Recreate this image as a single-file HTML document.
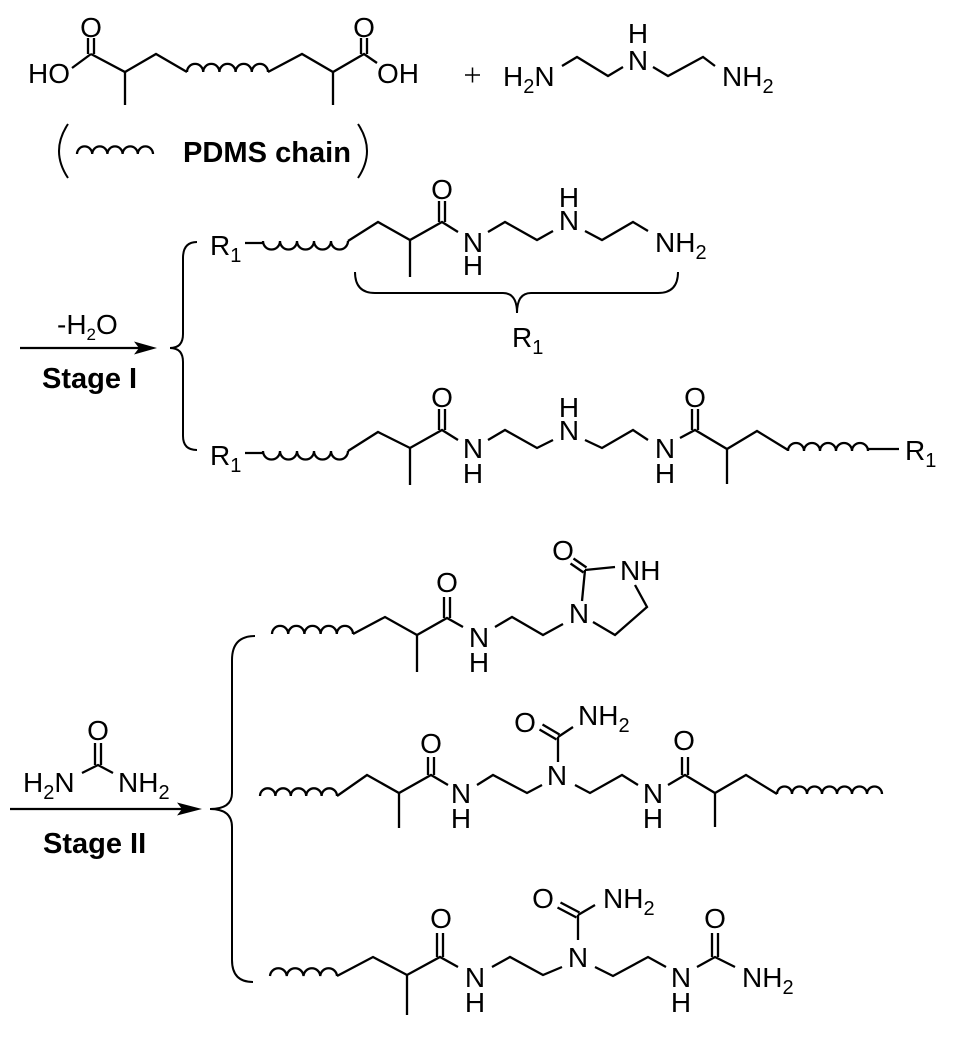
<!DOCTYPE html>
<html><head><meta charset="utf-8"><style>
html,body{margin:0;padding:0;background:#fff;}
svg{display:block;}
text{font-family:"Liberation Sans",Arial,sans-serif;font-size:28px;fill:#000;}
.b{font-weight:bold;font-size:29px;}
.m{text-anchor:middle;}
</style></head><body>
<svg width="967" height="1040" viewBox="0 0 967 1040" xmlns="http://www.w3.org/2000/svg">
<g stroke="#000" stroke-width="2.3" fill="none" stroke-linejoin="miter" stroke-linecap="butt">
<!-- Top acid -->
<line x1="72" y1="68" x2="91" y2="54"/>
<polyline points="91,54 125,72 156,54 187,72"/>
<line x1="125" y1="72" x2="125" y2="105"/>
<path d="M187,72 a8.1,8.1 0 0 1 16.2,0 a8.1,8.1 0 0 1 16.2,0 a8.1,8.1 0 0 1 16.2,0 a8.1,8.1 0 0 1 16.2,0 a8.1,8.1 0 0 1 16.2,0"/>
<polyline points="268,72 302,54 333,72 364,54 377,63"/>
<line x1="333" y1="72" x2="333" y2="105"/>
<line x1="88" y1="38" x2="88" y2="54"/><line x1="94" y1="38" x2="94" y2="54"/>
<line x1="361" y1="38" x2="361" y2="54"/><line x1="367" y1="38" x2="367" y2="54"/>
<!-- plus -->
<line x1="465" y1="75" x2="480" y2="75" stroke-width="1.5"/>
<line x1="472.5" y1="67.5" x2="472.5" y2="82.5" stroke-width="1.5"/>
<!-- amine -->
<polyline points="562,66 577,57 608,76 623,67"/>
<polyline points="653,67 668,76 703,57 715,66"/>
<!-- legend -->
<path d="M68,124 Q50,151 68,178" stroke-width="2"/>
<path d="M358,124 Q376,151 358,178" stroke-width="2"/>
<path d="M77,154 a7.6,7.6 0 0 1 15.2,0 a7.6,7.6 0 0 1 15.2,0 a7.6,7.6 0 0 1 15.2,0 a7.6,7.6 0 0 1 15.2,0 a7.6,7.6 0 0 1 15.2,0"/>

<!-- Stage I arrow -->
<line x1="20" y1="348" x2="142" y2="348"/>
<!-- Stage I brace -->
<path d="M197,242 Q183,242 183,258 L183,334 Q183,348 170,348 Q183,348 183,362 L183,436 Q183,450 197,450" stroke-width="2"/>

<!-- Stage I top molecule -->
<line x1="245" y1="243" x2="263" y2="243"/>
<path d="M263,241 a8.5,8.5 0 0 0 17,0 a8.5,8.5 0 0 0 17,0 a8.5,8.5 0 0 0 17,0 a8.5,8.5 0 0 0 17,0 a8.5,8.5 0 0 0 17,0"/>
<polyline points="348,241 378,222 410,240 442,222 458,232"/>
<line x1="410" y1="240" x2="410" y2="277"/>
<line x1="439" y1="201" x2="439" y2="222"/><line x1="445" y1="201" x2="445" y2="222"/>
<polyline points="488,232 505,222 537,240 553,231"/>
<polyline points="585,231 602,240 633,222 648,231"/>
<path d="M355,272 Q355,293 375,293 L503,293 Q517,293 517,313 Q517,293 531,293 L658,293 Q678,293 678,272" stroke-width="2"/>

<!-- Stage I bottom molecule -->
<line x1="245" y1="453" x2="263" y2="453"/>
<path d="M263,451 a8.5,8.5 0 0 0 17,0 a8.5,8.5 0 0 0 17,0 a8.5,8.5 0 0 0 17,0 a8.5,8.5 0 0 0 17,0 a8.5,8.5 0 0 0 17,0"/>
<polyline points="348,451 378,432 410,448 442,430 458,440"/>
<line x1="410" y1="448" x2="410" y2="485"/>
<line x1="439" y1="409" x2="439" y2="430"/><line x1="445" y1="409" x2="445" y2="430"/>
<polyline points="488,440 505,430 537,448 553,440"/>
<polyline points="585,440 602,448 633,430 648,440"/>
<polyline points="680,438 695,430 727,449 757,431 788,450"/>
<line x1="692" y1="409" x2="692" y2="430"/><line x1="698" y1="409" x2="698" y2="430"/>
<line x1="727" y1="449" x2="727" y2="484"/>
<path d="M788,451 a8,8 0 0 1 16,0 a8,8 0 0 1 16,0 a8,8 0 0 1 16,0 a8,8 0 0 1 16,0 a8,8 0 0 1 16,0"/>
<line x1="868" y1="449" x2="899" y2="449"/>

<!-- Stage II arrow -->
<line x1="10" y1="809" x2="187" y2="809"/>
<!-- urea -->
<line x1="95" y1="743" x2="95" y2="765"/><line x1="101" y1="743" x2="101" y2="765"/>
<polyline points="82,773 98,765 113,773"/>
<!-- Stage II brace -->
<path d="M255,636 Q232,636 232,660 L232,793 Q232,809 210,809 Q232,809 232,827 L232,960 Q232,982 253,982" stroke-width="2"/>

<!-- Mol 1 -->
<path d="M272,634 a8.1,8.1 0 0 1 16.2,0 a8.1,8.1 0 0 1 16.2,0 a8.1,8.1 0 0 1 16.2,0 a8.1,8.1 0 0 1 16.2,0 a8.1,8.1 0 0 1 16.2,0"/>
<polyline points="353,634 385,617 417,635 447,618 463,627"/>
<line x1="417" y1="635" x2="417" y2="672"/>
<line x1="444" y1="597" x2="444" y2="618"/><line x1="450" y1="597" x2="450" y2="618"/>
<polyline points="495,627 512,617 543,635 563,624"/>
<line x1="582" y1="601" x2="585" y2="570"/>
<line x1="585" y1="570" x2="615" y2="567"/>
<polyline points="635,585 647,607 615,635 593,622"/>
<line x1="586.5" y1="567.5" x2="573.5" y2="558.5"/>
<line x1="583.5" y1="572.5" x2="570.5" y2="563.5"/>

<!-- Mol 2 -->
<path d="M260,796 a7.7,7.7 0 0 1 15.4,0 a7.7,7.7 0 0 1 15.4,0 a7.7,7.7 0 0 1 15.4,0 a7.7,7.7 0 0 1 15.4,0 a7.7,7.7 0 0 1 15.4,0"/>
<polyline points="337,796 367,775 399,793 431,775 448,785"/>
<line x1="399" y1="793" x2="399" y2="828"/>
<line x1="428" y1="757" x2="428" y2="775"/><line x1="434" y1="757" x2="434" y2="775"/>
<polyline points="477,785 493,775 527,793 542,785"/>
<line x1="558" y1="762" x2="558" y2="737"/>
<line x1="559.5" y1="734.5" x2="542.5" y2="724.5"/>
<line x1="556.5" y1="739.5" x2="539.5" y2="729.5"/>
<line x1="558" y1="737" x2="573" y2="727"/>
<polyline points="575,785 590,793 622,775 638,785"/>
<polyline points="668,785 685,775 715,793 746,775 777,794"/>
<line x1="682" y1="757" x2="682" y2="775"/><line x1="688" y1="757" x2="688" y2="775"/>
<line x1="715" y1="793" x2="715" y2="827"/>
<path d="M777,794 a7.5,7.5 0 0 1 15,0 a7.5,7.5 0 0 1 15,0 a7.5,7.5 0 0 1 15,0 a7.5,7.5 0 0 1 15,0 a7.5,7.5 0 0 1 15,0 a7.5,7.5 0 0 1 15,0 a7.5,7.5 0 0 1 15,0"/>

<!-- Mol 3 -->
<path d="M270,976 a8.4,8.4 0 0 1 16.75,0 a8.4,8.4 0 0 1 16.75,0 a8.4,8.4 0 0 1 16.75,0 a8.4,8.4 0 0 1 16.75,0"/>
<polyline points="337,976 373,957 407,975 440,957 458,967"/>
<line x1="407" y1="975" x2="407" y2="1015"/>
<line x1="437" y1="933" x2="437" y2="957"/><line x1="443" y1="933" x2="443" y2="957"/>
<polyline points="492,967 510,957 543,975 562,967"/>
<line x1="578" y1="940" x2="578" y2="915"/>
<line x1="579.5" y1="912.5" x2="560.5" y2="902.5"/>
<line x1="576.5" y1="917.5" x2="557.5" y2="907.5"/>
<line x1="578" y1="915" x2="595" y2="905"/>
<polyline points="595,967 613,976 648,957 666,967"/>
<polyline points="697,967 715,957 735,967"/>
<line x1="712" y1="933" x2="712" y2="957"/><line x1="718" y1="933" x2="718" y2="957"/>
</g>

<!-- arrowheads -->
<polygon points="157,348 134,341.5 139,348 134,354.5" fill="#000"/>
<polygon points="202,809 177,802.5 182,809 177,815.5" fill="#000"/>

<!-- TEXT -->
<!-- top -->
<text x="28" y="83">HO</text>
<text class="m" x="91" y="37">O</text>
<text class="m" x="364" y="37">O</text>
<text x="377" y="83">OH</text>
<text x="503" y="86">H<tspan font-size="20" dy="7">2</tspan><tspan dy="-7">N</tspan></text>
<text class="m" x="638" y="70">N</text>
<text class="m" x="638" y="43">H</text>
<text x="722" y="86">NH<tspan font-size="20" dy="7">2</tspan></text>
<text class="b" x="183" y="162" font-size="28" textLength="168" lengthAdjust="spacingAndGlyphs">PDMS chain</text>

<!-- Stage I -->
<text x="57" y="334" font-size="24">-H<tspan font-size="17" dy="6">2</tspan><tspan dy="-6">O</tspan></text>
<text class="b" x="42" y="388">Stage I</text>

<text x="210" y="255">R<tspan font-size="20" dy="7">1</tspan></text>
<text class="m" x="442" y="199">O</text>
<text class="m" x="473" y="252">N</text>
<text class="m" x="473" y="275">H</text>
<text class="m" x="569" y="230">N</text>
<text class="m" x="569" y="207">H</text>
<text x="655" y="252">NH<tspan font-size="20" dy="7">2</tspan></text>
<text x="512" y="347">R<tspan font-size="20" dy="7">1</tspan></text>

<text x="210" y="465">R<tspan font-size="20" dy="7">1</tspan></text>
<text class="m" x="442" y="407">O</text>
<text class="m" x="473" y="458">N</text>
<text class="m" x="473" y="483">H</text>
<text class="m" x="569" y="440">N</text>
<text class="m" x="569" y="417">H</text>
<text class="m" x="665" y="458">N</text>
<text class="m" x="665" y="483">H</text>
<text class="m" x="695" y="407">O</text>
<text x="905" y="460">R<tspan font-size="20" dy="7">1</tspan></text>

<!-- Stage II -->
<text class="m" x="98" y="740">O</text>
<text x="23" y="792">H<tspan font-size="20" dy="7">2</tspan><tspan dy="-7">N</tspan></text>
<text x="118" y="792">NH<tspan font-size="20" dy="7">2</tspan></text>
<text class="b" x="43" y="853">Stage II</text>

<!-- mol1 -->
<text class="m" x="447" y="592">O</text>
<text class="m" x="479" y="647">N</text>
<text class="m" x="479" y="672">H</text>
<text class="m" x="579" y="623">N</text>
<text class="m" x="563" y="560">O</text>
<text x="620" y="580">NH</text>

<!-- mol2 -->
<text class="m" x="431" y="753">O</text>
<text class="m" x="461" y="803">N</text>
<text class="m" x="461" y="828">H</text>
<text class="m" x="557" y="785">N</text>
<text class="m" x="525" y="732">O</text>
<text x="578" y="725">NH<tspan font-size="20" dy="7">2</tspan></text>
<text class="m" x="653" y="803">N</text>
<text class="m" x="653" y="828">H</text>
<text class="m" x="684" y="750">O</text>

<!-- mol3 -->
<text class="m" x="441" y="928">O</text>
<text class="m" x="475" y="987">N</text>
<text class="m" x="475" y="1012">H</text>
<text class="m" x="578" y="967">N</text>
<text class="m" x="543" y="908">O</text>
<text x="603" y="908">NH<tspan font-size="20" dy="7">2</tspan></text>
<text class="m" x="681" y="987">N</text>
<text class="m" x="681" y="1012">H</text>
<text class="m" x="715" y="928">O</text>
<text x="742" y="987">NH<tspan font-size="20" dy="7">2</tspan></text>
</svg>
</body></html>
